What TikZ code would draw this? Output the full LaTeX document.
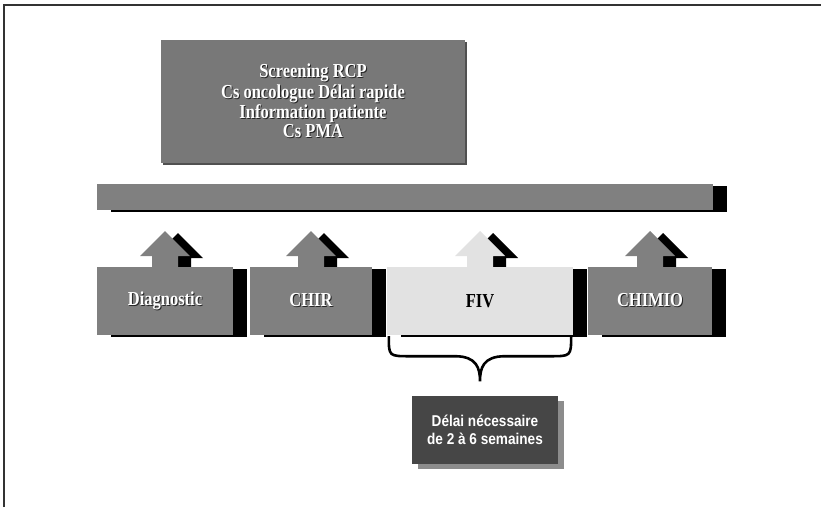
\documentclass[tikz,border=0pt]{standalone}
\usepackage{graphicx}
\usepackage{fontspec}
\setmainfont{Liberation Serif}
\newfontfamily\sansb{Liberation Sans}
\usetikzlibrary{shadows}
\definecolor{midgray}{HTML}{808080}
\definecolor{topgray}{HTML}{787878}
\definecolor{topshad}{HTML}{505050}
\definecolor{lightgr}{HTML}{E2E2E2}
\definecolor{darkbox}{HTML}{464646}
\definecolor{shadgray}{HTML}{8C8C8C}
\definecolor{framec}{HTML}{333333}
\newcommand\VS[1]{\scalebox{1}[1.2]{#1}}
\newcommand\ShTxt[1]{\leavevmode\rlap{\kern1pt\raisebox{-1pt}{\color{black!85}\VS{#1}}}{\color{white}\VS{#1}}}
\newcommand\UpArr[2]{%
  \fill[black,shift={(#1+13,2)}] (0,231) -- (25,256) -- (13,256) -- (13,268) -- (-13,268) -- (-13,256) -- (-25,256) -- cycle;
  \fill[#2,shift={(#1,0)}] (0,231) -- (25,256) -- (13,256) -- (13,268) -- (-13,268) -- (-13,256) -- (-25,256) -- cycle;}
\tikzset{
  blackshadow/.style={drop shadow={shadow xshift=14pt, shadow yshift=-2pt, fill=black, opacity=1}},
  stepbox/.style={fill=midgray, minimum height=68pt, inner sep=0pt, blackshadow,
    font=\fontsize{16.5}{18}\selectfont\bfseries},
  barbox/.style={fill=midgray, minimum width=616pt, minimum height=26pt, inner sep=0pt, blackshadow},
  infobox/.style={fill=topgray, minimum width=304pt, minimum height=123pt, inner sep=0pt, align=center,
    drop shadow={shadow xshift=2pt, shadow yshift=-2pt, fill=topshad, opacity=1},
    font=\fontsize{16.5}{16.5}\selectfont\bfseries},
  delaybox/.style={fill=darkbox, minimum width=146pt, minimum height=68pt, inner sep=0pt, align=center,
    text=white, drop shadow={shadow xshift=6pt, shadow yshift=-5pt, fill=shadgray, opacity=1},
    font=\sansb\bfseries\fontsize{13.6}{20}\selectfont},
  bracestyle/.style={line width=2.6pt, black},
  framestyle/.style={line width=2pt, framec}
}
\begin{document}
\begin{tikzpicture}[x=1pt,y=-1pt]
\useasboundingbox (0,0) rectangle (821,507);
\fill[white] (0,0) rectangle (821,507);
\draw[framestyle] (3.5,507) -- (3.5,5) -- (821,5);

\node[infobox] (info) at (313,101.5) {\ShTxt{Screening RCP}\\\ShTxt{Cs oncologue Délai rapide}\\\ShTxt{Information patiente}\\\ShTxt{Cs PMA}};

\node[barbox] (bar) at (405,197) {};

\UpArr{165}{midgray}
\UpArr{311}{midgray}
\UpArr{480}{lightgr}
\UpArr{650}{midgray}

\node[stepbox, minimum width=136pt] (diag) at (165,301) {\ShTxt{Diagnostic}};
\node[stepbox, minimum width=122pt] (chir) at (311,301) {\ShTxt{CHIR}};
\node[stepbox, minimum width=186pt, fill=lightgr, text=black] (fiv) at (480,301) {\VS{FIV}};
\node[stepbox, minimum width=124pt] (chimio) at (650,301) {\ShTxt{CHIMIO}};

\coordinate (bl) at ([xshift=2pt,yshift=-1pt]fiv.south west);
\coordinate (br) at ([xshift=-2pt,yshift=-1pt]fiv.south east);
\coordinate (tip) at ([yshift=-46pt]fiv.south);
\draw[bracestyle] (bl) .. controls +(0,20) .. ++(21,20) -- ++(45,0)
   .. controls +(22,0) and +(0,-13) .. (tip)
   .. controls +(0,-13) and +(-22,0) .. ++(25,-25) -- ++(45,0)
   .. controls +(21,0) .. (br);

\node[delaybox] (delay) at (485,430) {\raisebox{-2pt}{\scalebox{1}[1.15]{Délai nécessaire}}\\\scalebox{1}[1.15]{de 2 à 6 semaines}};
\end{tikzpicture}
\end{document}
